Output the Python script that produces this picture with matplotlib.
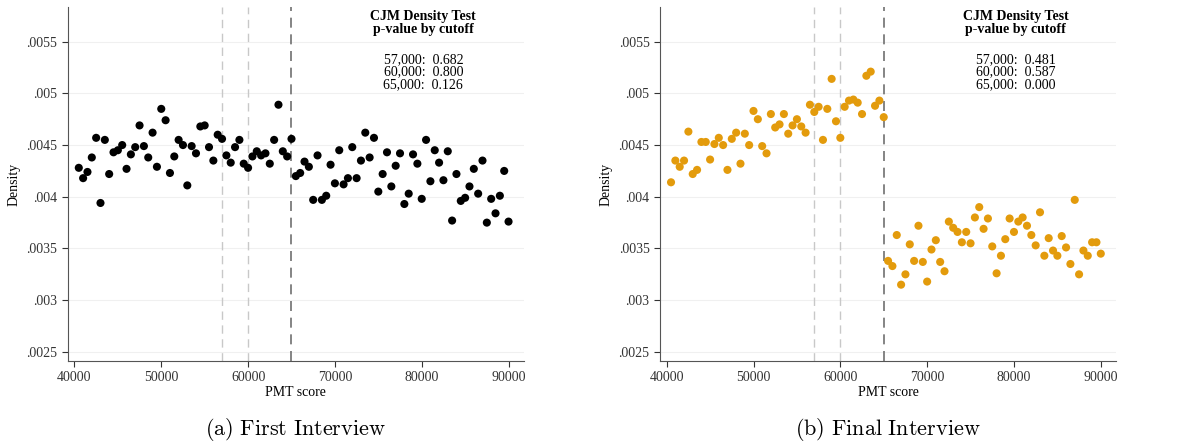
import numpy as np
import matplotlib as mpl
mpl.use('Agg')
import matplotlib.pyplot as plt

# bin midpoints of PMT score
pmt = np.arange(40500, 90001, 500)

first_density = [
  0.00428, 0.00418, 0.00424, 0.00438, 0.00457, 0.00394, 0.00455, 0.00422, 0.00443, 0.00445,
  0.00450, 0.00427, 0.00441, 0.00448, 0.00469, 0.00449, 0.00438, 0.00462, 0.00429, 0.00485,
  0.00474, 0.00423, 0.00439, 0.00455, 0.00450, 0.00411, 0.00449, 0.00442, 0.00468, 0.00469,
  0.00448, 0.00435, 0.00460, 0.00456, 0.00440, 0.00433, 0.00448, 0.00455, 0.00432, 0.00428,
  0.00439, 0.00444, 0.00440, 0.00442, 0.00432, 0.00455, 0.00489, 0.00444, 0.00439, 0.00456,
  0.00420, 0.00423, 0.00434, 0.00429, 0.00397, 0.00440, 0.00397, 0.00401, 0.00431, 0.00413,
  0.00445, 0.00412, 0.00418, 0.00448, 0.00418, 0.00435, 0.00462, 0.00438, 0.00457, 0.00405,
  0.00422, 0.00443, 0.00410, 0.00430, 0.00442, 0.00393, 0.00403, 0.00441, 0.00432, 0.00398,
  0.00455, 0.00415, 0.00445, 0.00433, 0.00416, 0.00444, 0.00377, 0.00422, 0.00396, 0.00399,
  0.00410, 0.00427, 0.00403, 0.00435, 0.00375, 0.00398, 0.00384, 0.00401, 0.00425, 0.00376]

final_density = [
  0.00414, 0.00435, 0.00429, 0.00435, 0.00463, 0.00422, 0.00426, 0.00453, 0.00453, 0.00436,
  0.00451, 0.00457, 0.00450, 0.00426, 0.00456, 0.00462, 0.00432, 0.00461, 0.00450, 0.00483,
  0.00475, 0.00449, 0.00442, 0.00480, 0.00467, 0.00470, 0.00480, 0.00461, 0.00469, 0.00475,
  0.00468, 0.00462, 0.00489, 0.00482, 0.00487, 0.00455, 0.00485, 0.00514, 0.00473, 0.00457,
  0.00487, 0.00493, 0.00494, 0.00491, 0.00480, 0.00517, 0.00521, 0.00488, 0.00493, 0.00477,
  0.00338, 0.00333, 0.00363, 0.00315, 0.00325, 0.00354, 0.00338, 0.00372, 0.00337, 0.00318,
  0.00349, 0.00358, 0.00337, 0.00328, 0.00376, 0.00370, 0.00366, 0.00356, 0.00366, 0.00355,
  0.00380, 0.00390, 0.00369, 0.00379, 0.00352, 0.00326, 0.00343, 0.00359, 0.00379, 0.00366,
  0.00376, 0.00380, 0.00372, 0.00363, 0.00353, 0.00385, 0.00343, 0.00360, 0.00348, 0.00343,
  0.00362, 0.00351, 0.00335, 0.00397, 0.00325, 0.00348, 0.00343, 0.00356, 0.00356, 0.00345]

cutoffs = [57000, 60000, 65000]
cutoff_labels = ["57,000", "60,000", "65,000"]
pvals_first = ["0.682", "0.800", "0.126"]
pvals_final = ["0.481", "0.587", "0.000"]

yticks = [0.0025, 0.003, 0.0035, 0.004, 0.0045, 0.005, 0.0055]
ytick_labels = [".0025", ".003", ".0035", ".004", ".0045", ".005", ".0055"]
xticks = [40000, 50000, 60000, 70000, 80000, 90000]

SERIF = ['Liberation Serif', 'DejaVu Serif']

fig = plt.figure(figsize=(11.95, 4.45), dpi=100)

panels = [
  (0.0567, first_density, 'black', pvals_first, r'$\mathrm{(a)\ First\ Interview}$'),
  (0.5523, final_density, '#E39B0C', pvals_final, r'$\mathrm{(b)\ Final\ Interview}$'),
]

for left, dens, col, pv, caption in panels:
  ax = fig.add_axes([left, 0.189, 0.3815, 0.7955])
  ax.set_xlim(39230, 91740)
  ax.set_ylim(0.002413, 0.005836)
  for t in yticks:
    ax.axhline(t, color='#f0f0f0', lw=0.8, zorder=0)
  ax.axvline(cutoffs[0], color='#c8c8c8', ls=(0, (6, 4)), lw=1.0, zorder=1)
  ax.axvline(cutoffs[1], color='#c8c8c8', ls=(0, (6, 4)), lw=1.0, zorder=1)
  ax.axvline(cutoffs[2], color='#707070', ls=(0, (6, 4)), lw=1.2, zorder=1)
  ax.scatter(pmt, dens, s=34, color=col, edgecolors='none', zorder=3)

  ax.spines['top'].set_visible(False)
  ax.spines['right'].set_visible(False)
  ax.spines['left'].set_color('#555555')
  ax.spines['bottom'].set_color('#555555')
  ax.set_yticks(yticks)
  ax.set_yticklabels(ytick_labels, fontfamily=SERIF, fontsize=10)
  ax.set_xticks(xticks)
  ax.set_xticklabels([str(x) for x in xticks], fontfamily=SERIF, fontsize=10)
  ax.tick_params(colors='#333333', length=4)
  ax.set_ylabel('Density', fontfamily=SERIF, fontsize=10)
  ax.set_xlabel('PMT score', fontfamily=SERIF, fontsize=10, labelpad=1)

  ax.text(0.78, 0.99, 'CJM Density Test\np-value by cutoff', transform=ax.transAxes,
          ha='center', va='top', fontfamily=SERIF, fontsize=10, fontweight='bold',
          linespacing=0.95)
  lines = "\n".join("%s:  %s" % (c, p) for c, p in zip(cutoff_labels, pv))
  ax.text(0.78, 0.87, lines, transform=ax.transAxes, ha='center', va='top',
          fontfamily=SERIF, fontsize=10, linespacing=0.95)

  fig.text(left + 0.3815 / 2, 0.035, caption, ha='center', va='center', fontsize=16,
           math_fontfamily='cm')

plt.savefig('out.png', dpi=100)
